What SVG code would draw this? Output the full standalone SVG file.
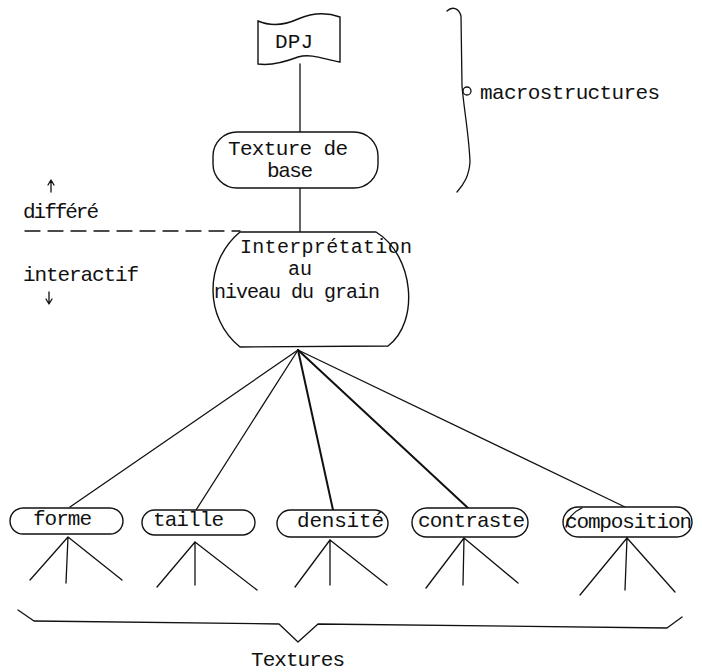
<svg xmlns="http://www.w3.org/2000/svg" width="702" height="672" viewBox="0 0 702 672">
  <style>
    .ln { fill: none; stroke: #111; stroke-width: 1.3; stroke-linecap: round; stroke-linejoin: round; }
    .thk { stroke-width: 2; }
    .box { fill: #fff; stroke: #111; stroke-width: 1.4; }
    .t { font-family: "Liberation Mono", "DejaVu Sans Mono", monospace; font-size: 21px; fill: #111; }
    .s { font-size: 20px; }
  </style>
  <rect width="702" height="672" fill="#fff"/>

  <!-- connectors -->
  <g id="connectors">
    <line class="ln" x1="300" y1="64" x2="300" y2="132"/>
    <line class="ln" x1="300" y1="188" x2="300" y2="232"/>
    <!-- fan from the grain level node to the five parameters -->
    <line class="ln" x1="298" y1="350" x2="70" y2="507"/>
    <line class="ln" x1="298" y1="350" x2="196" y2="510"/>
    <line class="ln thk" x1="298" y1="350" x2="333" y2="510"/>
    <line class="ln thk" x1="298" y1="350" x2="468" y2="508"/>
    <line class="ln" x1="298" y1="350" x2="625" y2="507"/>
    <!-- leaves under each parameter -->
    <path class="ln" d="M68,537 L30,580 M68,537 L66,583 M68,537 L122,580"/>
    <path class="ln" d="M195,542 L157,587 M195,542 L195,585 M195,542 L257,590"/>
    <path class="ln" d="M330,540 L295,587 M330,540 L330,585 M330,540 L387,585"/>
    <path class="ln" d="M464,538 L426,588 M464,538 L463,585 M464,538 L518,583"/>
    <path class="ln" d="M627,530 L627,538 M627,538 L580,595 M627,538 L625,590 M627,538 L675,592"/>
  </g>

  <!-- deferred / interactive boundary -->
  <g id="boundary">
    <line class="ln" x1="25" y1="231" x2="240" y2="231" stroke-dasharray="15 8"/>
    <path class="ln" stroke-width="1" d="M51,192 L51,181 M48,185 L51,180 L54,185"/>
    <text class="t" x="23" y="218" textLength="76">différé</text>
    <text class="t" x="23" y="281" textLength="116">interactif</text>
    <path class="ln" stroke-width="1" d="M49,292 L49,303 M46,299 L49,304 L52,299"/>
  </g>

  <!-- DPJ flag -->
  <g id="dpj">
    <path class="box" d="M258,21 C272,27 285,25 298,19 C312,13 326,12 340,17 L340,62 C326,60 312,53 298,57 C285,62 272,66 258,64 Z"/>
    <text class="t" x="275" y="48" textLength="38">DPJ</text>
  </g>

  <!-- macrostructures brace -->
  <g id="macrostructures">
    <path class="ln" d="M447,11 C452,6 459,8 461,16 L462,86 C464,110 469,135 470,162 C469,176 464,184 457,192"/>
    <circle class="ln" cx="467" cy="91" r="4"/>
    <text class="t" x="480" y="99" textLength="180">macrostructures</text>
  </g>

  <!-- base texture -->
  <g id="texture-base">
    <rect class="box" x="213" y="132" width="165" height="56" rx="24"/>
    <text class="t" x="228" y="155" textLength="120">Texture de</text>
    <text class="t" x="267" y="177" textLength="46">base</text>
  </g>

  <!-- grain level interpretation -->
  <g id="interpretation">
    <path class="box" d="M240,232 L376,232 C414,255 420,322 388,346 L240,347 C204,318 204,262 240,232 Z"/>
    <text class="t s" x="240" y="253" textLength="172">Interprétation</text>
    <text class="t s" x="288" y="275" textLength="24">au</text>
    <text class="t s" x="214" y="298" textLength="166">niveau du grain</text>
  </g>

  <!-- grain parameters -->
  <g id="forme">
    <rect class="box" x="10" y="508" width="113" height="26" rx="13"/>
    <text class="t" x="33" y="525" textLength="59">forme</text>
  </g>
  <g id="taille">
    <rect class="box" x="142" y="510" width="113" height="25" rx="12.5"/>
    <text class="t" x="153" y="526" textLength="71">taille</text>
  </g>
  <g id="densite">
    <rect class="box" x="277" y="510" width="111" height="27" rx="13.5"/>
    <text class="t" x="297" y="527" textLength="87">densité</text>
  </g>
  <g id="contraste">
    <rect class="box" x="412" y="508" width="116" height="29" rx="14.5"/>
    <text class="t" x="418" y="527" textLength="107">contraste</text>
  </g>
  <g id="composition">
    <rect class="box" x="563" y="507" width="129" height="30" rx="15"/>
    <path class="ln" d="M566,527 C568,518 573,512 582,508"/>
    <text class="t" x="565" y="528" textLength="127">composition</text>
  </g>

  <!-- textures brace -->
  <g id="textures">
    <path class="ln" d="M18,610 L34,621 L279,624 L298,642 L318,624 L667,628 L682,617"/>
    <text class="t" x="298" y="666" text-anchor="middle" textLength="94">Textures</text>
  </g>
</svg>
